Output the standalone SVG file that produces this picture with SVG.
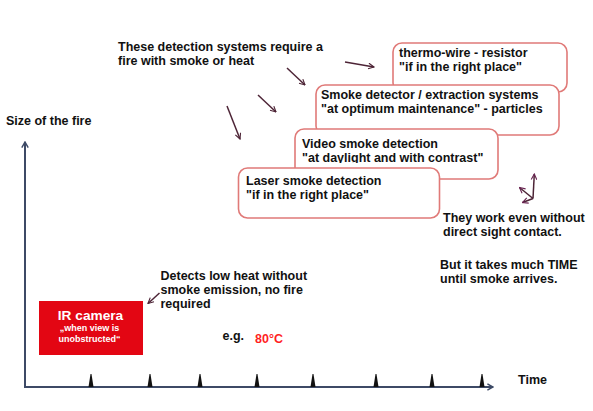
<svg xmlns="http://www.w3.org/2000/svg" width="593" height="411" viewBox="0 0 593 411">
<style>
  text { font-family: "Liberation Sans", Arial, sans-serif; font-weight: bold; }
  .t { font-size: 12.5px; fill: #111111; }
  .box { fill: #ffffff; stroke: #e07a78; stroke-width: 1.6; }
  .arr { stroke: #4d2436; stroke-width: 1.5; fill: none; }
  .ax { stroke: #3d4a66; stroke-width: 2; fill: none; }
  .tick { fill: #111111; }
</style>
<defs>
  <marker id="ah" viewBox="0 0 10 10" refX="9" refY="5" markerWidth="7" markerHeight="7" orient="auto" markerUnits="userSpaceOnUse">
    <path d="M1,1 L9,5 L1,9" fill="none" stroke="#4d2436" stroke-width="1.6"/>
  </marker>
  <marker id="ah2" viewBox="0 0 10 10" refX="9" refY="5" markerWidth="7" markerHeight="7" orient="auto" markerUnits="userSpaceOnUse">
    <path d="M1,1 L9,5 L1,9" fill="none" stroke="#6a2452" stroke-width="1.6"/>
  </marker>
  <marker id="axh" viewBox="0 0 10 10" refX="9" refY="5" markerWidth="8" markerHeight="8" orient="auto" markerUnits="userSpaceOnUse">
    <path d="M2,1 L9,5 L2,9" fill="none" stroke="#3d4a66" stroke-width="1.8"/>
  </marker>
  <clipPath id="vclip"><rect x="290" y="125" width="220" height="38"/></clipPath>
</defs>

<g id="axes">
  <line class="ax" x1="25" y1="387" x2="25" y2="142" marker-end="url(#axh)"/>
  <line class="ax" x1="24" y1="387" x2="493" y2="387" stroke="#3e6378" marker-end="url(#axh)"/>
  <g id="ticks">
    <path class="tick" d="M88.5,387 L90.5,374 L91.5,374 L93.5,387 Z"/>
    <path class="tick" d="M147.5,387 L149.5,374 L150.5,374 L152.5,387 Z"/>
    <path class="tick" d="M197.5,387 L199.5,374 L200.5,374 L202.5,387 Z"/>
    <path class="tick" d="M254.5,387 L256.5,374 L257.5,374 L259.5,387 Z"/>
    <path class="tick" d="M310.5,387 L312.5,374 L313.5,374 L315.5,387 Z"/>
    <path class="tick" d="M373.5,387 L375.5,374 L376.5,374 L378.5,387 Z"/>
    <path class="tick" d="M429.5,387 L431.5,374 L432.5,374 L434.5,387 Z"/>
    <path class="tick" d="M479.5,387 L481.5,374 L482.5,374 L484.5,387 Z"/>
  </g>
  <text class="t" x="6" y="125">Size of the fire</text>
  <text class="t" x="518" y="384">Time</text>
</g>

<g id="intro">
  <text class="t" x="118" y="51">These detection systems require a</text>
  <text class="t" x="118" y="65">fire with smoke or heat</text>
</g>

<g id="thermo-wire">
  <rect class="box" x="393" y="43" width="174" height="49" rx="9"/>
  <text class="t" x="399" y="57">thermo-wire - resistor</text>
  <text class="t" x="399" y="71">"if in the right place"</text>
</g>

<g id="smoke-detector">
  <rect class="box" x="316" y="85" width="243" height="50" rx="9"/>
  <text class="t" x="321" y="98.5">Smoke detector / extraction systems</text>
  <text class="t" x="321" y="113">"at optimum maintenance" - particles</text>
</g>

<g id="video">
  <rect class="box" x="295" y="129" width="203" height="50" rx="9"/>
  <g clip-path="url(#vclip)">
    <text class="t" x="302" y="147.5">Video smoke detection</text>
    <text class="t" x="302" y="162">"at daylight and with contrast"</text>
  </g>
</g>

<g id="laser">
  <rect class="box" x="238.5" y="168" width="201" height="50" rx="9"/>
  <text class="t" x="246" y="185">Laser smoke detection</text>
  <text class="t" x="246" y="199">"if in the right place"</text>
</g>

<g id="sight-note">
  <text class="t" x="443" y="222">They work even without</text>
  <text class="t" x="443" y="235.5">direct sight contact.</text>
</g>

<g id="time-note">
  <text class="t" x="440" y="268.5">But it takes much TIME</text>
  <text class="t" x="440" y="283">until smoke arrives.</text>
</g>

<g id="ir-camera">
  <rect x="39" y="301" width="104" height="54" fill="#e30613"/>
  <text x="90.5" y="320" font-size="13.7" fill="#ffffff" text-anchor="middle">IR camera</text>
  <text x="89.5" y="331" font-size="9" fill="#ffffff" text-anchor="middle">„when view is</text>
  <text x="89.5" y="342" font-size="9" fill="#ffffff" text-anchor="middle">unobstructed“</text>
</g>

<g id="heat-note">
  <text class="t" x="160.5" y="279.5" fill="#1c2238">Detects low heat without</text>
  <text class="t" x="160.5" y="293.5" fill="#1c2238">smoke emission, no fire</text>
  <text class="t" x="160.5" y="307.5" fill="#1c2238">required</text>
</g>

<g id="example">
  <text class="t" x="222.5" y="339.5">e.g.</text>
  <text x="255" y="343" font-size="12.5" fill="#ff1f1f">80°C</text>
</g>

<g id="connectors">
  <line class="arr" x1="287" y1="68" x2="305" y2="85" marker-end="url(#ah)"/>
  <line class="arr" x1="258" y1="95" x2="276" y2="112" marker-end="url(#ah)"/>
  <line class="arr" x1="227" y1="106" x2="240" y2="139" marker-end="url(#ah)"/>
  <line class="arr" x1="345" y1="62" x2="374" y2="67" marker-end="url(#ah)"/>
  <line class="arr" x1="159.5" y1="293" x2="148" y2="303.5" marker-end="url(#ah)"/>
  <line class="arr" x1="533" y1="198.5" x2="534.3" y2="174" stroke="#6a2452" marker-end="url(#ah2)"/>
  <line class="arr" x1="533" y1="198.5" x2="519.5" y2="187.5" stroke="#6a2452" marker-end="url(#ah2)"/>
  <line class="arr" x1="533" y1="198.5" x2="522.5" y2="202.5" stroke="#6a2452" marker-end="url(#ah2)"/>
</g>
</svg>
